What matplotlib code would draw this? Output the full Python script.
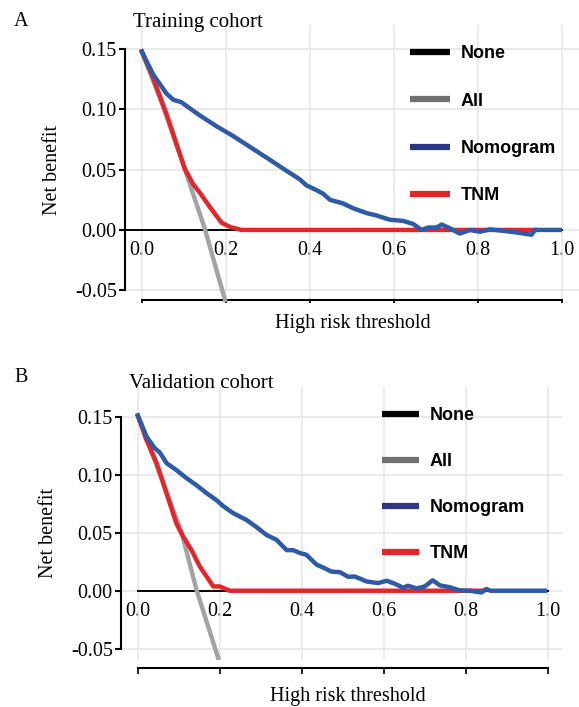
import matplotlib.pyplot as plt
from matplotlib.lines import Line2D

# serif text like the original figure, bold sans for the legend
plt.rcParams['font.family'] = ['Liberation Serif', 'DejaVu Serif']

# ---- data ----
x_ticks = [0.0, 0.2, 0.4, 0.6, 0.8, 1.0]
x_tick_labels = ['0.0', '0.2', '0.4', '0.6', '0.8', '1.0']
y_ticks = [-0.05, 0.0, 0.05, 0.10, 0.15]
y_tick_labels = ['-0.05', '0.00', '0.05', '0.10', '0.15']
legend_labels = ['None', 'All', 'Nomogram', 'TNM']

# A: training cohort
train_none_x = [-0.04, 1.0]
train_none_y = [0.0, 0.0]
train_all_x = [0.0, 0.05, 0.10, 0.15, 0.198]
train_all_y = [0.148, 0.103, 0.053, 0.001, -0.058]
train_nomo_x = [0.0, 0.027, 0.059, 0.075, 0.094, 0.138, 0.178, 0.217, 0.257, 0.297,
                0.336, 0.376, 0.392, 0.416, 0.432, 0.448, 0.479, 0.503, 0.535, 0.559,
                0.590, 0.622, 0.646, 0.666, 0.682, 0.702, 0.714, 0.733, 0.757, 0.781,
                0.805, 0.829, 0.868, 0.900, 0.928, 0.936, 0.995]
train_nomo_y = [0.148, 0.129, 0.113, 0.108, 0.106, 0.095, 0.086, 0.078, 0.069, 0.060,
                0.051, 0.042, 0.037, 0.033, 0.030, 0.025, 0.022, 0.018, 0.014, 0.012,
                0.0085, 0.0075, 0.005, 0.0, 0.002, 0.002, 0.0045, 0.0015, -0.003, 0.0,
                -0.0015, 0.0005, -0.001, -0.0025, -0.004, 0.0, 0.0]
train_tnm_x = [0.0, 0.027, 0.059, 0.083, 0.102, 0.122, 0.138, 0.162, 0.190, 0.210, 0.237, 0.936]
train_tnm_y = [0.148, 0.126, 0.096, 0.071, 0.051, 0.038, 0.031, 0.019, 0.006, 0.0025, 0.0, 0.0]

# B: validation cohort
valid_none_x = [0.0, 1.0]
valid_none_y = [0.0, 0.0]
valid_all_x = [0.0, 0.05, 0.107, 0.143, 0.196]
valid_all_y = [0.151, 0.104, 0.050, 0.001, -0.058]
valid_nomo_x = [0.0, 0.021, 0.041, 0.054, 0.070, 0.094, 0.119, 0.143, 0.168, 0.192,
                0.208, 0.232, 0.265, 0.289, 0.314, 0.338, 0.363, 0.379, 0.395, 0.411,
                0.436, 0.452, 0.472, 0.493, 0.513, 0.529, 0.558, 0.586, 0.607, 0.627,
                0.647, 0.659, 0.680, 0.700, 0.719, 0.737, 0.761, 0.785, 0.810, 0.838,
                0.850, 0.860, 0.993]
valid_nomo_y = [0.151, 0.133, 0.123, 0.119, 0.110, 0.104, 0.097, 0.091, 0.084, 0.078,
                0.073, 0.067, 0.061, 0.055, 0.048, 0.044, 0.035, 0.035, 0.0325, 0.031,
                0.0225, 0.020, 0.0165, 0.016, 0.012, 0.0123, 0.008, 0.0066, 0.0086, 0.006,
                0.0026, 0.0043, 0.002, 0.0037, 0.009, 0.0046, 0.003, 0.0003, 0.0, -0.0015,
                0.0015, 0.0, 0.0]
valid_tnm_x = [0.0, 0.021, 0.046, 0.070, 0.094, 0.110, 0.131, 0.151, 0.184, 0.200, 0.224, 0.84]
valid_tnm_y = [0.151, 0.130, 0.110, 0.084, 0.058, 0.047, 0.035, 0.021, 0.0037, 0.0037, 0.0, 0.0]

line_colors = {'None': 'black', 'All': '#a3a3a3', 'Nomogram': '#2d5ba6', 'TNM': '#e3262b'}
legend_colors = ['black', '#707070', '#2f3784', '#e3262b']

fig = plt.figure(figsize=(5.79, 7.07), dpi=100)


def draw_panel(rect, xlim, ylim, curves, bottom_spine, tick_len, leg_anchor, leg_spacing,
               leg_handle_len, ylabel_xy, xlabel_xy):
    ax = fig.add_axes(rect)
    none, all_, nomo, tnm = curves
    ax.plot(none[0], none[1], color=line_colors['None'], lw=1.4, zorder=2)
    ax.plot(all_[0], all_[1], color=line_colors['All'], lw=3.2, zorder=3)
    ax.plot(tnm[0], tnm[1], color=line_colors['TNM'], lw=3.2, zorder=4)
    ax.plot(nomo[0], nomo[1], color=line_colors['Nomogram'], lw=3.2, zorder=5)

    ax.set_xlim(*xlim)
    ax.set_ylim(*ylim)
    ax.grid(color='#e4e4e4', lw=1.1)
    ax.set_axisbelow(True)

    for s in ['top', 'right']:
        ax.spines[s].set_visible(False)
    ax.spines['left'].set_bounds(-0.05, 0.15)
    ax.spines['left'].set_linewidth(1.5)
    ax.spines['bottom'].set_position(bottom_spine)
    ax.spines['bottom'].set_bounds(0.0, 1.0)
    ax.spines['bottom'].set_linewidth(1.5)

    ax.set_yticks(y_ticks, y_tick_labels)
    ax.tick_params(axis='y', length=4, width=1.5, labelsize=14.5, pad=2)
    ax.set_xticks(x_ticks)
    ax.tick_params(axis='x', length=tick_len, width=1.2, labelbottom=False)

    # x tick labels sit on the zero line
    sec = ax.secondary_xaxis(0, transform=ax.transData)
    sec.set_xticks(x_ticks, x_tick_labels)
    sec.tick_params(length=0, pad=8, labelsize=14.5)
    for s in sec.spines.values():
        s.set_visible(False)

    ax.set_ylabel('Net benefit', fontsize=14.5, va='center')
    ax.yaxis.set_label_coords(*ylabel_xy)
    ax.set_xlabel('High risk threshold', fontsize=14.5, va='center')
    ax.xaxis.set_label_coords(*xlabel_xy)

    handles = [Line2D([], [], color=c, lw=4.5, solid_capstyle='butt') for c in legend_colors]
    ax.legend(handles, legend_labels, loc='upper left', bbox_to_anchor=leg_anchor,
              frameon=False, borderpad=0, borderaxespad=0, labelspacing=leg_spacing,
              handlelength=leg_handle_len, handletextpad=0.6,
              prop={'family': 'Liberation Sans', 'weight': 'bold', 'size': 13})
    return ax


draw_panel([125 / 579, 404 / 707, 454 / 579, 278 / 707], (-0.04, 1.041), (-0.0606, 0.170),
           [(train_none_x, train_none_y), (train_all_x, train_all_y),
            (train_nomo_x, train_nomo_y), (train_tnm_x, train_tnm_y)],
           ('data', -0.058), 2, (0.628, 0.927), 1.68, 2.2, (-0.159, 0.478), (0.502, -0.072))

draw_panel([121 / 579, 47 / 707, 442 / 579, 273 / 707], (-0.041, 1.037), (-0.0597, 0.1756),
           [(valid_none_x, valid_none_y), (valid_all_x, valid_all_y),
            (valid_nomo_x, valid_nomo_y), (valid_tnm_x, valid_tnm_y)],
           ('outward', 6), 4, (0.590, 0.926), 1.6, 2.05, (-0.163, 0.465), (0.514, -0.1355))

fig.text(14 / 579, 1 - 21 / 707, 'A', fontsize=14.5, va='center', ha='left')
fig.text(133 / 579, 1 - 22 / 707, 'Training cohort', fontsize=15, va='center', ha='left')
fig.text(14 / 579, 1 - 378 / 707, 'B', fontsize=14.5, va='center', ha='left')
fig.text(129 / 579, 1 - 383 / 707, 'Validation cohort', fontsize=15, va='center', ha='left')

fig.savefig('out.png', dpi=100)
